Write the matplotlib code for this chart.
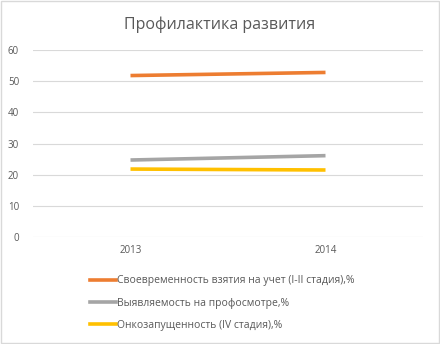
import matplotlib
matplotlib.use('Agg')
import matplotlib.pyplot as plt
from matplotlib.lines import Line2D

# ============================================================
# DATA
# ============================================================
years = ['2013', '2014']
timely = [51.8, 52.8]
screening = [24.7, 26.1]
neglect = [21.8, 21.5]
labels = ['Своевременность взятия на учет (I-II стадия),%',
          'Выявляемость на профосмотре,%',
          'Онкозапущенность (IV стадия),%']
colors = ['#ED7D31', '#A5A5A5', '#FFC000']

plt.rcParams['font.family'] = ['Open Sans', 'DejaVu Sans']
txt = '#595959'

# ============================================================
# FIGURE
# ============================================================
fig = plt.figure(figsize=(4.4, 3.44), dpi=100)
fig.patch.set_facecolor('white')
ax = fig.add_axes([33/440, 1 - 237/344, 390/440, 187/344])

x = range(len(years))
for vals, c in zip([timely, screening, neglect], colors):
    ax.plot(x, vals, color=c, linewidth=2.6, solid_capstyle='butt')

ax.set_xlim(-0.5, 1.5)
ax.set_ylim(0, 60)
ax.set_yticks(range(0, 61, 10))
ax.set_xticks(list(x))
ax.set_xticklabels(years)
ax.tick_params(axis='both', length=0, labelsize=7, colors=txt, pad=6)
ax.tick_params(axis='y', pad=10)
ax.grid(axis='y', color='#D9D9D9', linewidth=0.8)
ax.set_axisbelow(True)
for s in ax.spines.values():
    s.set_visible(False)

fig.text(0.5, 1 - 25/344, 'Профилактика развития', ha='center', va='center',
         fontsize=11.5, color=txt)

handles = [Line2D([0], [0], color=c, linewidth=2.6) for c in colors]
fig.legend(handles, labels, loc='upper left', bbox_to_anchor=(86/440, 1 - 271/344),
           frameon=False, fontsize=7.5, labelcolor=txt, handlelength=2.5,
           handletextpad=0.1, labelspacing=1.1, borderaxespad=0)

fig.add_artist(plt.Rectangle((0.002, 0.003), 0.995, 0.994, transform=fig.transFigure,
                             fill=False, edgecolor='#D9D9D9', linewidth=1))

plt.savefig('out.png', dpi=100)
